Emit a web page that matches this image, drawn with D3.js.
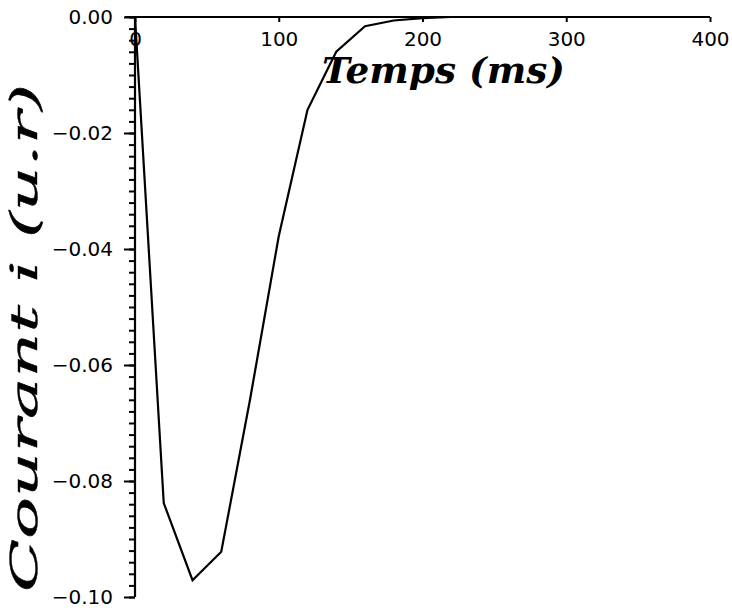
<!DOCTYPE html>
<html>
<head>
<meta charset="utf-8">
<script src="https://cdn.jsdelivr.net/npm/d3@7"></script>
<style>
    body { margin: 0; background: #fff; }
    svg { display: block; }
    .tick text { font-family: "DejaVu Sans", sans-serif; font-size: 20px; fill: #000; }
    .tick line { stroke: #000; stroke-width: 2; }
    .axis_line { stroke: #000; stroke-width: 2.2; }
    .curve { fill: none; stroke: #000; stroke-width: 2.2; stroke-linejoin: miter; }
    .title { font-family: "DejaVu Serif", serif; font-style: italic; fill: #000; }
</style>
</head>
<body>
<svg id="graph" width="732" height="613"></svg>
<script>
// time in ms, current in arbitrary units (u.r)
let time_ms = [0, 20, 40, 60, 80, 100, 120, 140, 160, 180, 200, 220, 240, 260, 280, 300, 320, 340, 360, 380, 400];
let current = [0, -0.0838, -0.0971, -0.0922, -0.066, -0.0378, -0.016, -0.006, -0.0016, -0.0006, -0.0002,
    0, 0, 0, 0, 0, 0, 0, 0, 0, 0];

let x_ticks = [0, 100, 200, 300, 400];
let y_ticks = [0, -0.02, -0.04, -0.06, -0.08, -0.10];
let y_minor = d3.range(0, 51).map(i => -i * 0.002);

let svg = d3.select("#graph");

let xScale = d3.scaleLinear()
    .domain([0, 400])
    .range([135, 710]);

let yScale = d3.scaleLinear()
    .domain([-0.1, 0])
    .range([597, 17]);

// minor ticks on the y axis
svg.append("g")
    .attr("transform", "translate(" + xScale(0) + ",0)")
    .call(d3.axisLeft(yScale).tickValues(y_minor).tickSize(6).tickSizeOuter(0).tickFormat(""))
    .call(g => g.select(".domain").remove());

// major ticks on the y axis
svg.append("g")
    .attr("transform", "translate(" + xScale(0) + ",0)")
    .call(d3.axisLeft(yScale).tickValues(y_ticks).tickSize(11).tickSizeOuter(0).tickPadding(11)
        .tickFormat(d3.format(".2f")))
    .call(g => g.select(".domain").remove());

// x axis along the top, ticks pointing down
svg.append("g")
    .attr("transform", "translate(0," + yScale(0) + ")")
    .call(d3.axisBottom(xScale).tickValues(x_ticks).tickSize(5).tickSizeOuter(0).tickPadding(10)
        .tickFormat(d3.format("d")))
    .call(g => g.select(".domain").remove());

svg.append("path")
    .attr("class", "axis_line")
    .attr("d", d3.line()([[xScale(0) - 10, yScale(0)], [xScale(400), yScale(0)]]));

svg.append("path")
    .attr("class", "axis_line")
    .attr("d", d3.line()([[xScale(0), yScale(0)], [xScale(0), yScale(-0.1)]]));

let line = d3.line()
    .x((d, i) => xScale(time_ms[i]))
    .y(d => yScale(d));

svg.append("path")
    .datum(current)
    .attr("class", "curve")
    .attr("d", line);

svg.append("text")
    .attr("class", "title")
    .attr("x", 322)
    .attr("y", 83)
    .attr("font-size", 35)
    .attr("font-weight", "bold")
    .attr("textLength", 243)
    .attr("lengthAdjust", "spacingAndGlyphs")
    .text("Temps  (ms)");

svg.append("text")
    .attr("class", "title")
    .attr("transform", "translate(37,592) rotate(-90)")
    .attr("font-size", 38)
    .attr("stroke", "#000")
    .attr("stroke-width", 0.4)
    .attr("textLength", 508)
    .attr("lengthAdjust", "spacingAndGlyphs")
    .text("Courant  i  (u.r)");
</script>
</body>
</html>
